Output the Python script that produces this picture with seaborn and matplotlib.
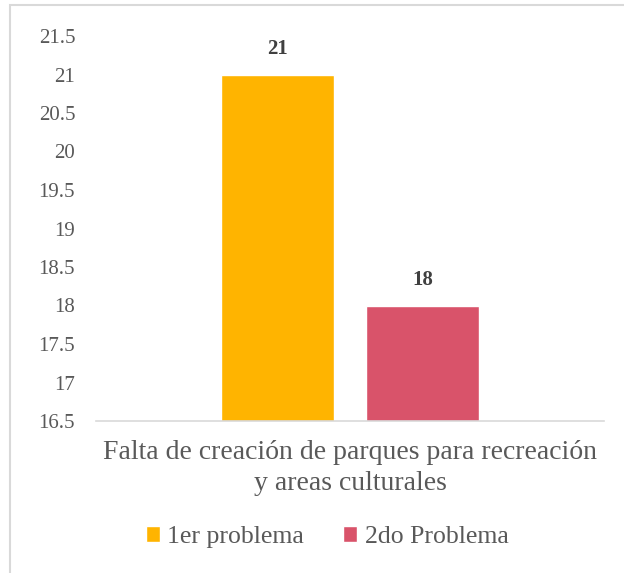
import pandas as pd
import matplotlib.pyplot as plt
import seaborn as sns
from matplotlib.patches import Rectangle

# data
categoria = ["Falta de creación de parques para recreación\ny areas culturales"]
series = ["1er problema", "2do Problema"]
valores = [21, 18]
y_ticks = [16.5, 17, 17.5, 18, 18.5, 19, 19.5, 20, 20.5, 21, 21.5]

colores = ["#FFB400", "#D9536A"]
gris = "#595959"

df = pd.DataFrame({
    "categoria": categoria * len(series),
    "serie": series,
    "valor": valores,
})

sns.set_theme(style="white")
plt.rcParams["font.family"] = ["Liberation Serif", "DejaVu Serif"]

fig = plt.figure(figsize=(6.24, 5.73), dpi=100)
ax = fig.add_axes([96 / 624, 1 - 421 / 573, 508 / 624, 385 / 573])

sns.barplot(data=df, x="categoria", y="valor", hue="serie", palette=colores,
            saturation=1, width=0.57, gap=0.22, ax=ax, legend=True)

ax.set_ylim(16.5, 21.5)
ax.set_yticks(y_ticks)
ax.set_yticklabels([f"{t:g}" for t in y_ticks])
ax.set_xlim(-0.5, 0.5)
ax.tick_params(axis="y", length=0, pad=15, labelsize=15, labelcolor=gris)
ax.tick_params(axis="x", length=0, pad=14, labelsize=20, labelcolor=gris)
for lab in ax.get_xticklabels():
    lab.set_linespacing(1.3)
ax.set_xlabel("")
ax.set_ylabel("")

for s in ["top", "right", "left"]:
    ax.spines[s].set_visible(False)
ax.spines["bottom"].set_color("#D9D9D9")
ax.spines["bottom"].set_linewidth(1.2)

# value labels above bars
for cont in ax.containers:
    ax.bar_label(cont, fmt="%g", padding=11, fontsize=15, color="#404040",
                 fontweight="bold")

# legend at the bottom
ax.legend(loc="center", bbox_to_anchor=(327 / 624, 1 - 537 / 573),
          bbox_transform=fig.transFigure, ncol=2, frameon=False,
          fontsize=18.5, labelcolor=gris, handlelength=0.55, handleheight=0.55,
          handletextpad=0.3, columnspacing=1.5)

# light frame of the chart area (only top and left are in view)
fig.patches.append(Rectangle((10 / 624, -0.1), 1.2, 1 - 5 / 573 + 0.1,
                             transform=fig.transFigure, fill=False,
                             edgecolor="#D9D9D9", linewidth=1.5))

fig.savefig("out.png", dpi=100)
